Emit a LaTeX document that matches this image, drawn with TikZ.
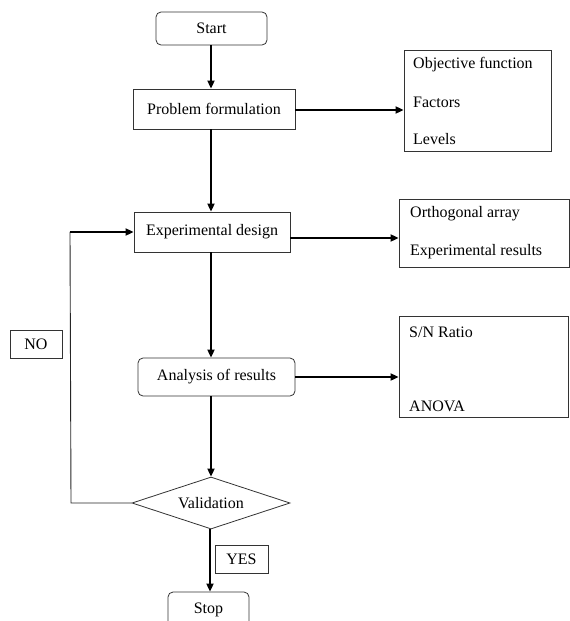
\documentclass[tikz,border=0pt]{standalone}
\usepackage{fontspec}
\setmainfont{Liberation Serif}
\usetikzlibrary{arrows.meta,shapes.geometric}
\begin{document}
\begin{tikzpicture}[x=1pt,y=-1pt,
  font=\fontsize{16}{19}\selectfont,
  box/.style={draw=black!80, line width=0.8pt, inner sep=0pt},
  rbox/.style={box, rounded corners=5pt},
  lst/.style={anchor=west, inner sep=0pt},
  arr/.style={line width=1.8pt, -{Triangle[length=8pt,width=7pt]}},
  thinline/.style={line width=0.9pt, black!85}]
\useasboundingbox (0,0) rectangle (570,621);
\coordinate (axis) at (211,0);
% main flow
\node[rbox, minimum width=111pt, minimum height=33pt] (start) at (211.5,28.5) {Start};
\node[box, minimum width=162pt, minimum height=40pt] (pf) at (214,109) {Problem formulation};
\node[box, minimum width=156pt, minimum height=40pt] (ed) at (212,232) {Experimental design};
\node[rbox, minimum width=157pt, minimum height=38pt] (ar) at (216.5,377) {Analysis of results};
\node[box, diamond, aspect=3, minimum width=158pt, minimum height=52pt] (val) at (211,503) {Validation};
\node[rbox, minimum width=81pt, minimum height=36pt] (stop) at (208.5,610) {Stop};
\node[box, minimum width=52pt, minimum height=28pt] (no) at (36,344) {NO};
\node[box, minimum width=53pt, minimum height=28pt] (yes) at (241.5,559) {YES};
% side boxes
\node[box, minimum width=147pt, minimum height=101pt] (obj) at (477.5,100.5) {};
\node[lst] (obj1) at (413,65) {Objective function};
\node[lst] (obj2) at (413,102) {Factors};
\node[lst] (obj3) at (413,139) {Levels};
\node[box, minimum width=170pt, minimum height=68pt] (orth) at (484,233) {};
\node[lst] (orth1) at (410,214) {Orthogonal array};
\node[lst] (orth2) at (410,252) {Experimental results};
\node[box, minimum width=169pt, minimum height=101pt] (sn) at (483.5,366.5) {};
\node[lst] (sn1) at (409,332) {S/N Ratio};
\node[lst] (sn2) at (409,406) {ANOVA};
% vertical connectors
\draw[arr] (axis |- start.south) -- (axis |- pf.north);
\draw[arr] (axis |- pf.south) -- (axis |- ed.north);
\draw[arr] (axis |- ed.south) -- (axis |- ar.north);
\draw[arr] (axis |- ar.south) -- (val.north);
\draw[arr] ([xshift=-1pt]val.south) -- ([xshift=-1pt]val.south |- stop.north);
% horizontal connectors
\coordinate (pfo) at (295,110);
\draw[arr] (pfo) -- (pfo -| obj.west);
\coordinate (edo) at (290,238);
\draw[arr] (edo) -- (edo -| orth.west);
\draw[arr] (ar.east) -- (ar.east -| sn.west);
% NO loop
\coordinate (nb) at (71,503);
\coordinate (nc) at (70,232);
\draw[thinline] (val.west) -- (nb) -- (nc);
\draw[arr] ([xshift=-0.5pt]nc) -- (ed.west);
\end{tikzpicture}
\end{document}
